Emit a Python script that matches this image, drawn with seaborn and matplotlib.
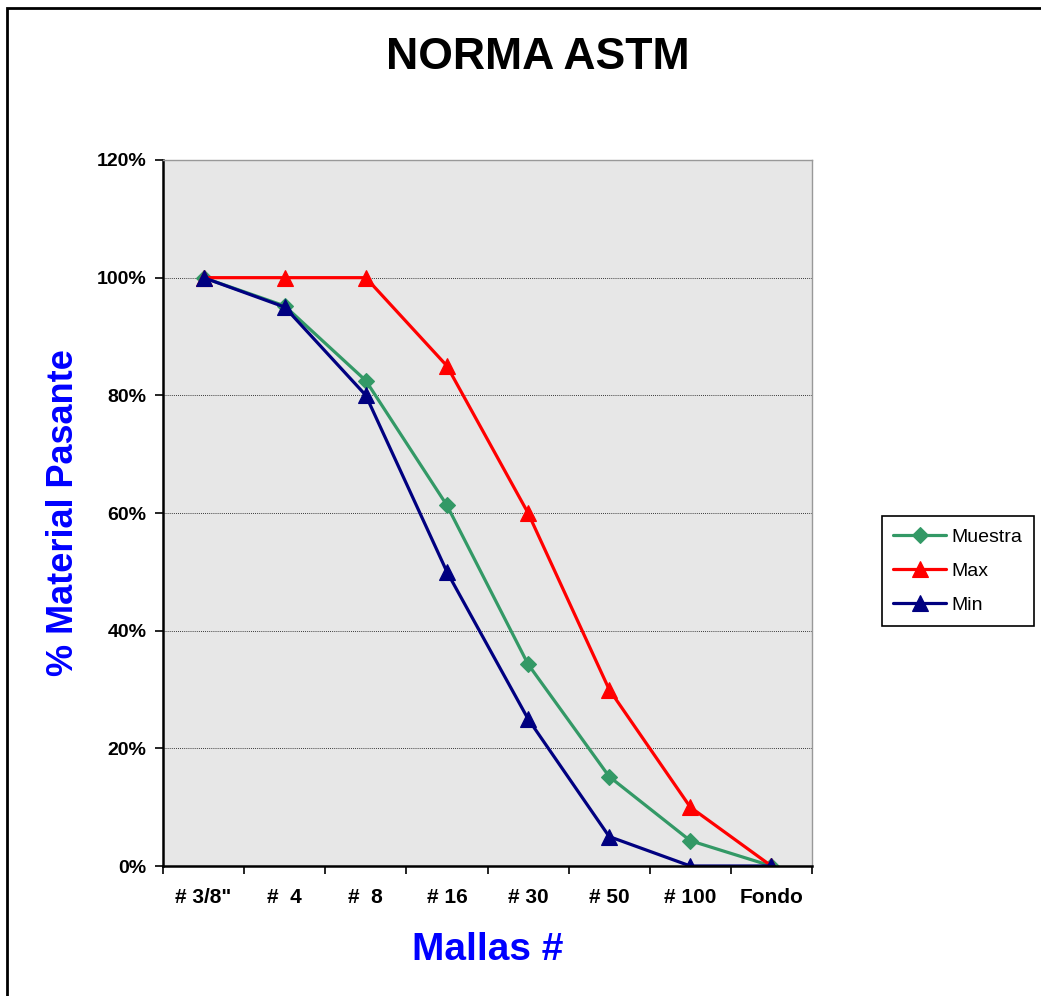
import numpy as np
import pandas as pd
import seaborn as sns
import matplotlib.pyplot as plt
from matplotlib.patches import Rectangle

# tamices y porcentajes pasantes
mallas = ['# 3/8"', '#  4', '#  8', '# 16', '# 30', '# 50', '# 100', 'Fondo']
muestra = [100.0, 95.2, 82.5, 61.3, 34.3, 15.2, 4.3, 0.0]
maximo = [100, 100, 100, 85, 60, 30, 10, 0]
minimo = [100, 95, 80, 50, 25, 5, 0, 0]

pos = np.arange(len(mallas))
series = {'Muestra': muestra, 'Max': maximo, 'Min': minimo}
colores = {'Muestra': '#339966', 'Max': '#ff0000', 'Min': '#000080'}
marcas = {'Muestra': ('D', 8), 'Max': ('^', 11), 'Min': ('^', 11)}

sns.set_style('white')
plt.rcParams['font.family'] = ['Liberation Sans', 'DejaVu Sans']
plt.rcParams['text.color'] = 'black'
plt.rcParams['axes.labelcolor'] = 'black'
plt.rcParams['xtick.color'] = 'black'
plt.rcParams['ytick.color'] = 'black'

fig = plt.figure(figsize=(10.41, 9.96), dpi=100)
ax = fig.add_axes([163 / 1041, 1 - 866 / 996, 649 / 1041, 706 / 996])
ax.set_facecolor('#e7e7e7')

for nombre, valores in series.items():
    m, ms = marcas[nombre]
    sns.lineplot(x=pos, y=np.array(valores) / 100, color=colores[nombre],
                 marker=m, markersize=ms, markeredgecolor=colores[nombre],
                 markeredgewidth=0.8, linewidth=2.3, label=nombre, ax=ax)

ax.set_xlim(-0.5, len(mallas) - 0.5)
ax.set_ylim(0, 1.2)

# ejes estilo excel
ax.set_yticks(np.arange(0, 1.21, 0.2))
ax.set_yticklabels([f'{int(round(v * 100))}%' for v in np.arange(0, 1.21, 0.2)],
                   fontsize=14, fontweight='bold')
ax.tick_params(axis='y', direction='out', length=6, width=1.2, pad=6, left=True)
for v in np.arange(0.2, 1.01, 0.2):
    ax.axhline(v, color='black', linestyle=(0, (1, 1.5)), linewidth=0.6, zorder=0.5)

ax.set_xticks(pos)
ax.set_xticklabels(mallas, fontsize=15, fontweight='bold')
ax.set_xticks(np.arange(-0.5, len(mallas), 1), minor=True)
ax.tick_params(axis='x', which='major', length=0, pad=16)
ax.tick_params(axis='x', which='minor', direction='out', length=6, width=1.2, bottom=True)

for lado in ['left', 'bottom']:
    ax.spines[lado].set_color('black')
    ax.spines[lado].set_linewidth(1.8)
for lado in ['top', 'right']:
    ax.spines[lado].set_color('#999999')
    ax.spines[lado].set_linewidth(1.0)

ax.set_xlabel('Mallas #', fontsize=28, fontweight='bold', color='#0000ff', labelpad=18)
ax.set_ylabel('% Material Pasante', fontsize=26, fontweight='bold', color='#0000ff',
              labelpad=11)

fig.text(0.517, 0.942, 'NORMA ASTM', ha='center', va='center',
         fontsize=32, fontweight='bold')

handles, labels = ax.get_legend_handles_labels()
ax.legend(handles, labels, loc='center', bbox_to_anchor=(958 / 1041, 1 - 571 / 996),
          bbox_transform=fig.transFigure, fontsize=14, frameon=True, fancybox=False,
          edgecolor='black', framealpha=1, handlelength=2.7, labelspacing=0.85,
          borderpad=0.6, handletextpad=0.3)
ax.get_legend().get_frame().set_linewidth(1.2)

# marco exterior del grafico
fig.patches.append(Rectangle((7 / 1041, -0.05), 1.2, 1 - 8 / 996 + 0.05,
                             transform=fig.transFigure, fill=False,
                             edgecolor='black', linewidth=2, clip_on=False))

fig.savefig('out.png', dpi=100)
